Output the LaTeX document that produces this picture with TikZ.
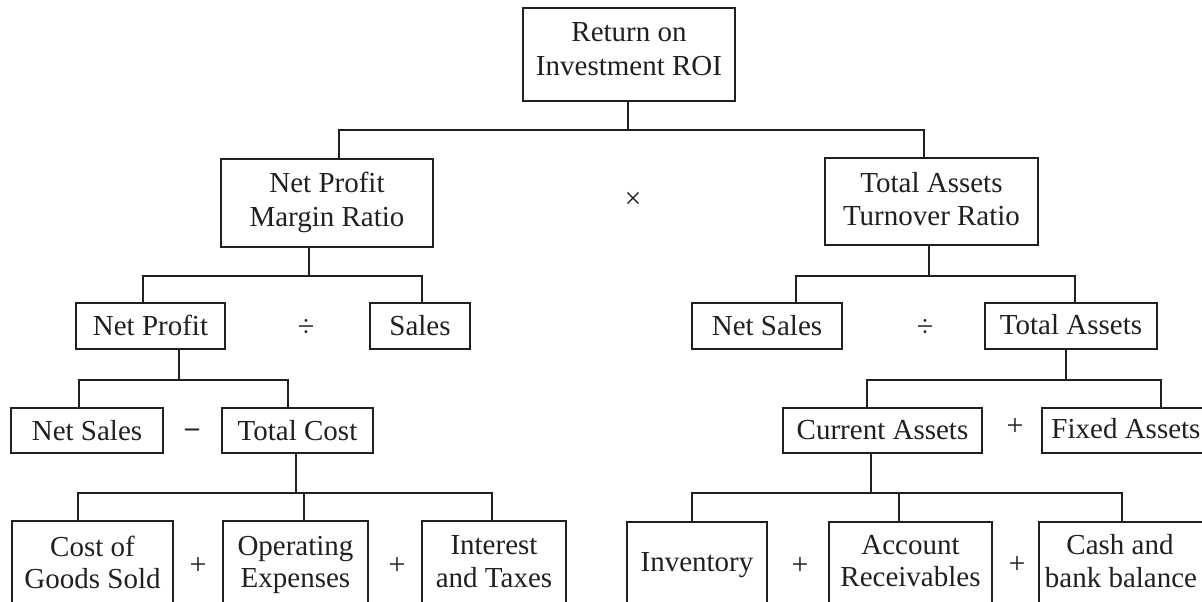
\documentclass[tikz,border=0pt]{standalone}
\usepackage{fontspec}
\setmainfont{Liberation Serif}
\definecolor{ink}{HTML}{231F20}
\begin{document}
\begin{tikzpicture}[x=1pt,y=-1pt,
  box/.style={draw=ink, line width=1.7pt, rectangle, inner sep=0pt},
  lbl/.style={anchor=base, inner sep=0pt, text=ink, font=\fontsize{29}{34}\selectfont},
  op/.style={anchor=center, inner sep=0pt, text=ink, font=\fontsize{30}{34}\selectfont},
  wire/.style={draw=ink, line width=1.7pt}]
\path[use as bounding box] (0,0) rectangle (1202,602);
\clip (0,0) rectangle (1202,602);

% ---- boxes ----
\node[box, minimum width=212, minimum height=93] (roi)  at (629,54.5) {};
\node[box, minimum width=212, minimum height=88] (npmr) at (327,203) {};
\node[box, minimum width=213, minimum height=87] (tatr) at (931.5,201.5) {};
\node[box, minimum width=149, minimum height=46] (np)    at (150.5,326) {};
\node[box, minimum width=100, minimum height=46] (sales) at (420,326) {};
\node[box, minimum width=150, minimum height=46] (nsr)   at (767,326) {};
\node[box, minimum width=172, minimum height=46] (ta)    at (1071,326) {};
\node[box, minimum width=152, minimum height=45] (nsl)   at (87,430.5) {};
\node[box, minimum width=151, minimum height=45] (tc)    at (297.5,430.5) {};
\node[box, minimum width=199, minimum height=45] (ca)    at (882.5,430.5) {};
\node[box, minimum width=168, minimum height=45] (fa)    at (1126,430.5) {};
\node[box, minimum width=161, minimum height=85] (cogs)  at (92.5,563.5) {};
\node[box, minimum width=145, minimum height=85] (opex)  at (295.5,563.5) {};
\node[box, minimum width=144, minimum height=85] (intx)  at (494,563.5) {};
\node[box, minimum width=140, minimum height=85] (inv)   at (697,564.5) {};
\node[box, minimum width=163, minimum height=85] (ar)    at (910.5,564.5) {};
\node[box, minimum width=167, minimum height=85] (cash)  at (1122.5,564.5) {};

% ---- texts ----
\node[lbl] (roi1) at (629,42) {Return on};
\node[lbl] (roi2) at (629,76) {Investment ROI};
\node[lbl] (npmr1) at (327,192) {Net Profit};
\node[lbl] (npmr2) at (327,226) {Margin Ratio};
\node[lbl] (tatr1) at (931.5,192) {Total Assets};
\node[lbl] (tatr2) at (931.5,225) {Turnover Ratio};
\node[lbl] (npt) at (150.5,335) {Net Profit};
\node[lbl] (salest) at (420,335) {Sales};
\node[lbl] (nsrt) at (767,335) {Net Sales};
\node[lbl] (tat) at (1071,334) {Total Assets};
\node[lbl] (nslt) at (87,440) {Net Sales};
\node[lbl] (tct) at (297.5,440) {Total Cost};
\node[lbl] (cat) at (882.5,439) {Current Assets};
\node[lbl] (fat) at (1126,438) {Fixed Assets};
\node[lbl] (cogs1) at (92.5,556) {Cost of};
\node[lbl] (cogs2) at (92.5,588) {Goods Sold};
\node[lbl] (opex1) at (295.5,555) {Operating};
\node[lbl] (opex2) at (295.5,587) {Expenses};
\node[lbl] (intx1) at (494,554) {Interest};
\node[lbl] (intx2) at (494,587) {and Taxes};
\node[lbl] (invt) at (697,571) {Inventory};
\node[lbl] (ar1) at (910.5,554) {Account};
\node[lbl] (ar2) at (910.5,586) {Receivables};
\node[lbl] (cash1) at (1120,554) {Cash and};
\node[lbl] (cash2) at (1121,587) {bank balance};

% ---- operators ----
\node[op] (times) at (633,200) {×};
\node[op] (div1) at (306,328) {÷};
\node[op] (div2) at (925,328) {÷};
\node[op, font=\fontsize{28}{32}\selectfont\bfseries] (minus) at (192,433) {–};
\node[op] (plus1) at (1015,427) {+};
\node[op] (plus2) at (198,566) {+};
\node[op] (plus3) at (397,566) {+};
\node[op] (plus4) at (800,566) {+};
\node[op] (plus5) at (1017,565) {+};

% ---- connectors ----
\coordinate (j1) at (628,130); \coordinate (j1l) at (339,130); \coordinate (j1r) at (924,130);
\draw[wire] (roi.south -| j1) -- (j1);
\draw[wire] (npmr.north -| j1l) -- (j1l) -- (j1r) -- (tatr.north -| j1r);

\coordinate (j2) at (309,276); \coordinate (j2l) at (143,276); \coordinate (j2r) at (422,276);
\draw[wire] (npmr.south -| j2) -- (j2);
\draw[wire] (np.north -| j2l) -- (j2l) -- (j2r) -- (sales.north -| j2r);

\coordinate (j3) at (929,276); \coordinate (j3l) at (796,276); \coordinate (j3r) at (1075,276);
\draw[wire] (tatr.south -| j3) -- (j3);
\draw[wire] (nsr.north -| j3l) -- (j3l) -- (j3r) -- (ta.north -| j3r);

\coordinate (j4) at (179,380); \coordinate (j4l) at (79,380); \coordinate (j4r) at (288,380);
\draw[wire] (np.south -| j4) -- (j4);
\draw[wire] (nsl.north -| j4l) -- (j4l) -- (j4r) -- (tc.north -| j4r);

\coordinate (j5) at (1066,380); \coordinate (j5l) at (867,380); \coordinate (j5r) at (1161,380);
\draw[wire] (ta.south -| j5) -- (j5);
\draw[wire] (ca.north -| j5l) -- (j5l) -- (j5r) -- (fa.north -| j5r);

\coordinate (j6) at (296,494); \coordinate (j6l) at (78,493); \coordinate (j6m) at (304,493); \coordinate (j6r) at (492,493);
\draw[wire] (tc.south -| j6) -- (j6);
\draw[wire] (cogs.north -| j6l) -- (j6l) -- (j6r) -- (intx.north -| j6r);
\draw[wire] (j6m) -- (opex.north -| j6m);

\coordinate (j7) at (871,494); \coordinate (j7l) at (692,493); \coordinate (j7m) at (899,493); \coordinate (j7r) at (1122,493);
\draw[wire] (ca.south -| j7) -- (j7);
\draw[wire] (inv.north -| j7l) -- (j7l) -- (j7r) -- (cash.north -| j7r);
\draw[wire] (j7m) -- (ar.north -| j7m);
\end{tikzpicture}
\end{document}
